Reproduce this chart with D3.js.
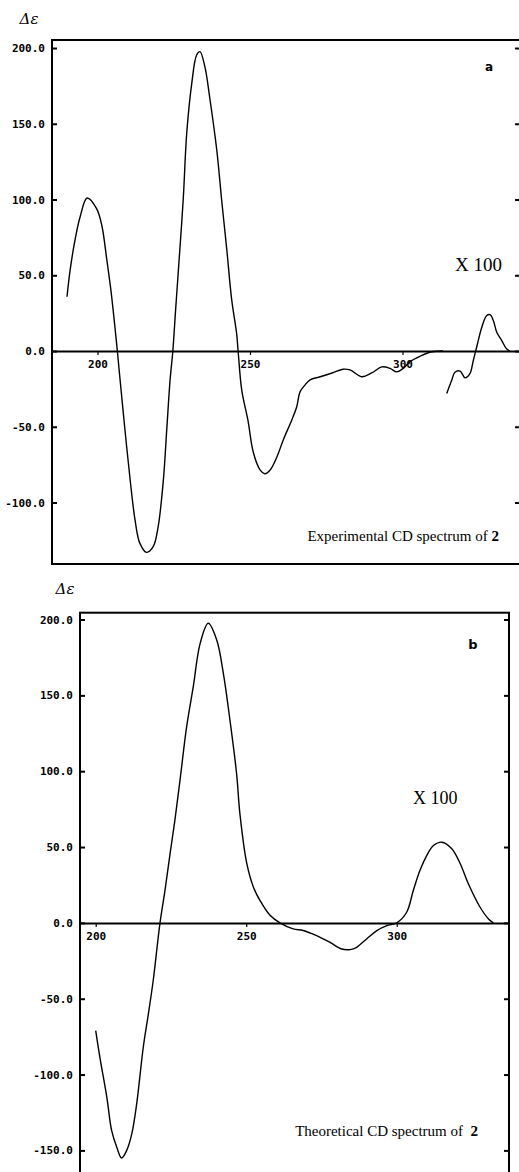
<!DOCTYPE html>
<html>
<head>
<meta charset="utf-8">
<script src="https://cdn.jsdelivr.net/npm/d3@7"></script>
<style>
  html, body { margin: 0; padding: 0; background: #fff; }
  svg { display: block; }
</style>
</head>
<body>
<svg id="chart" width="519" height="1172"></svg>
<script>
// ---------- DATA ----------
// Panel a: experimental CD spectrum (wavelength nm, Δε)
const expWavelength = [190.0,191.0,192.6,194.3,196.6,199.7,201.4,203.0,204.4,205.7,206.5,207.4,209.0,210.7,212.3,213.9,216.1,218.3,219.9,221.6,222.7,223.8,224.7,225.6,226.6,228.1,229.25,230.9,232.5,233.6,235.2,236.9,239.1,240.7,242.4,244.0,245.6,246.1,247.3,249.3,251.1,253.3,254.9,256.6,258.8,260.9,263.7,265.3,266.4,268.0,269.7,273.0,276.9,280.5,282.8,286.6,289.9,293.2,295.9,298.1,300.2,302.5,305.7,309.6,313.3];
const expDelta      = [35.8,53,73,88.6,101,94,83,61,40,16,0,-19,-52,-85,-111.5,-127,-132.9,-129,-115.8,-85,-52,-19,0,27,55.6,100,143.7,176.7,195.4,197.6,187.7,165.7,132.7,99.7,66.7,33.7,11.7,0,-26,-45.5,-67,-78.5,-81,-78.5,-70,-58.7,-45.5,-37,-27,-22.5,-19,-17,-14.5,-12,-12.5,-17,-14.5,-10.5,-11.5,-13.8,-11.5,-7,-3.5,-0.5,0];
// Panel a, long-wavelength segment shown ×100
const expX100Wavelength = [314.5,316.1,317.2,318.9,320.5,322.1,323.2,324.3,326.0,327.6,328.7,329.8,330.9,332.5,334.1,335.2];
const expX100Delta      = [-28,-19.5,-14,-13.3,-17.7,-15,-6.3,2.5,15.7,23.4,24,20,12.4,7,1.5,0];
// Panel b: theoretical CD spectrum
const theoWavelength = [200.0,201.4,203.7,205.3,207.0,208.6,210.3,212.0,213.6,215.8,217.5,219.1,221.36,223.0,224.7,226.3,228.0,230.2,232.4,234.7,237.4,240.2,242.4,244.6,246.8,247.9,250.2,252.4,254.6,257.9,261.2,265.6,268.9,273.4,277.8,281.7,284.5,286.7,290.0,293.4,296.7,300.0,303.3,305.5,307.7,310.0,312.2,315.0,318.3,321.1,323.8,327.7,330.5,332.1];
const theoDelta      = [-71,-88.8,-115,-137,-148,-155,-150,-139,-119.5,-82,-60,-38,0,21.3,45.6,67.6,94,129.2,155.6,184.3,197.5,186.5,164.5,133.6,98.4,72,39,23.5,14.7,5,0,-4,-5,-8.4,-12.8,-17.2,-17.6,-16.1,-10.6,-5.1,-1.8,0,7,21.3,34.5,44.5,51,53.2,48.9,39,25.8,10.3,2.6,0];

const xTicks = [200, 250, 300];
const yTicksA = [200, 150, 100, 50, 0, -50, -100];
const yTicksB = [200, 150, 100, 50, 0, -50, -100, -150];
const panelLetters = ["a", "b"];
const captions = ["Experimental CD spectrum of 2", "Theoretical CD spectrum of  2"];
const multiplierLabel = "X 100";
const yLabel = "Δε";

// ---------- DRAW ----------
const svg = d3.select("#chart");

function panel(cfg) {
  const x = d3.scaleLinear().domain(cfg.xDomain).range([cfg.left, cfg.right]);
  const y = d3.scaleLinear().domain(cfg.yDomain).range([cfg.bottom, cfg.top]);
  const g = svg.append("g");

  // frame
  g.append("rect")
    .attr("x", cfg.left).attr("y", cfg.top)
    .attr("width", cfg.right - cfg.left).attr("height", cfg.bottom - cfg.top)
    .attr("fill", "none").attr("stroke", "#000").attr("stroke-width", 2);

  // left axis with inward ticks
  const ax = g.append("g")
    .attr("transform", `translate(${cfg.left},0)`)
    .call(d3.axisLeft(y).tickValues(cfg.yTicks).tickSizeInner(-5).tickSizeOuter(0)
      .tickPadding(7).tickFormat(d3.format(".1f")));
  ax.select(".domain").remove();
  ax.selectAll("line").attr("stroke-width", 2);
  ax.selectAll("text")
    .attr("font-family", "'DejaVu Sans Mono', monospace")
    .attr("font-size", 11).attr("font-weight", "bold")
    .text(d => d3.format(".1f")(d).replace("−", "-"));

  // right axis ticks (inward)
  const ar = g.append("g")
    .attr("transform", `translate(${cfg.right},0)`)
    .call(d3.axisRight(y).tickValues(cfg.yTicks).tickSizeInner(-5).tickSizeOuter(0).tickFormat(""));
  ar.select(".domain").remove();
  ar.selectAll("line").attr("stroke-width", 2);

  // zero axis with wavelength ticks
  const axb = g.append("g")
    .attr("transform", `translate(0,${y(0)})`)
    .call(d3.axisBottom(x).tickValues(xTicks).tickSizeInner(4).tickSizeOuter(0).tickPadding(5));
  axb.select(".domain").attr("stroke-width", 2);
  axb.selectAll("line").attr("stroke-width", 1.2);
  axb.selectAll("text")
    .attr("font-family", "'DejaVu Sans Mono', monospace")
    .attr("font-size", 11).attr("font-weight", "bold");

  // curves
  const line = d3.line().x(d => x(d[0])).y(d => y(d[1])).curve(d3.curveCatmullRom.alpha(0.5));
  cfg.series.forEach(s => {
    g.append("path")
      .datum(d3.zip(s[0], s[1]))
      .attr("d", line)
      .attr("fill", "none").attr("stroke", "#000").attr("stroke-width", 1.4);
  });

  // texts
  g.append("text").attr("x", cfg.yLabelPos[0]).attr("y", cfg.yLabelPos[1])
    .attr("font-family", "'DejaVu Serif', serif").attr("font-style", "italic")
    .attr("font-size", 15).attr("text-anchor", "middle").text(yLabel);
  g.append("text").attr("x", cfg.letterPos[0]).attr("y", cfg.letterPos[1])
    .attr("font-family", "'DejaVu Sans', sans-serif").attr("font-weight", "bold")
    .attr("font-size", cfg.letterSize).attr("text-anchor", "middle").text(cfg.letter);
  g.append("text").attr("x", cfg.multPos[0]).attr("y", cfg.multPos[1])
    .attr("font-family", "'Liberation Serif', serif")
    .attr("font-size", cfg.multSize).text(multiplierLabel);
  const cap = g.append("text").attr("x", cfg.capPos[0]).attr("y", cfg.capPos[1])
    .attr("font-family", "'Liberation Serif', serif")
    .attr("font-size", 15).attr("text-anchor", "end").attr("xml:space", "preserve");
  const parts = cfg.caption.match(/^(.*?)(\s*)(\d+)$/);
  cap.append("tspan").text(parts[1] + parts[2]);
  cap.append("tspan").attr("font-weight", "bold").text(parts[3]);
}

panel({
  left: 52, right: 520, top: 40, bottom: 564,
  xDomain: [185.08, 338.52], yDomain: [-140.6, 205.3],
  yTicks: yTicksA,
  series: [[expWavelength, expDelta], [expX100Wavelength, expX100Delta]],
  yLabelPos: [29, 24], letter: panelLetters[0], letterPos: [489, 71], letterSize: 12,
  multPos: [455, 271], multSize: 19, capPos: [499, 541], caption: captions[0]
});

panel({
  left: 80, right: 509, top: 612.7, bottom: 1178,
  xDomain: [194.78, 337.3], yDomain: [-168.2, 204.5],
  yTicks: yTicksB,
  series: [[theoWavelength, theoDelta]],
  yLabelPos: [65, 594], letter: panelLetters[1], letterPos: [473, 649], letterSize: 13,
  multPos: [413, 804], multSize: 18, capPos: [478, 1136], caption: captions[1]
});
</script>
</body>
</html>
